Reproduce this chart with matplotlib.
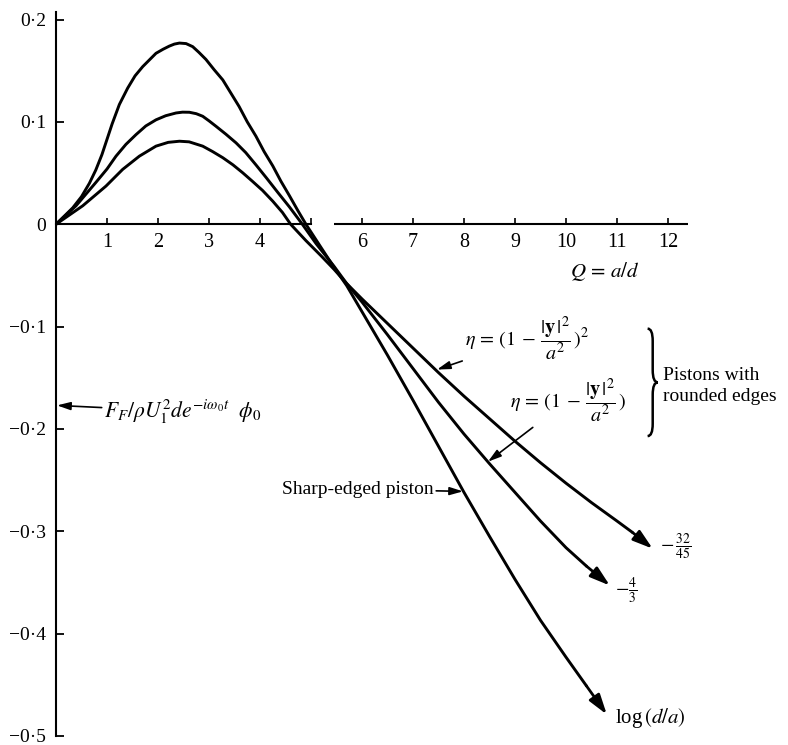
import matplotlib.pyplot as plt
from matplotlib.path import Path
from matplotlib.patches import PathPatch

plt.rcParams['font.family'] = ['Liberation Serif', 'DejaVu Serif']
plt.rcParams['mathtext.fontset'] = 'stix'

# sharp-edged piston (ends at log(d/a))
q_sharp = [0, 0.327, 0.5, 0.654, 0.78, 0.9, 0.98, 1.1, 1.242, 1.405, 1.55, 1.70, 1.84,
           1.96, 2.1, 2.22, 2.32, 2.42, 2.55, 2.68, 2.8, 2.94, 3.1, 3.27, 3.43, 3.59,
           3.75, 3.92, 4.08, 4.25, 4.41, 4.575, 4.74, 4.9, 5.2, 5.45, 5.7, 5.9, 6.5,
           7.0, 7.5, 8.0, 8.5, 9.0, 9.5, 10.0, 10.4, 10.8]
f_sharp = [0, 0.016, 0.027, 0.040, 0.053, 0.068, 0.080, 0.098, 0.117, 0.133, 0.145,
           0.154, 0.161, 0.167, 0.171, 0.174, 0.176, 0.177, 0.1765, 0.1735, 0.168,
           0.161, 0.151, 0.141, 0.128, 0.115, 0.100, 0.086, 0.071, 0.057, 0.042,
           0.028, 0.0135, 0.0, -0.023, -0.042, -0.060, -0.077, -0.128, -0.172,
           -0.217, -0.262, -0.305, -0.347, -0.387, -0.423, -0.451, -0.479]

# eta = (1 - |y|^2/a^2), ends at -4/3
q_lin = [0, 0.392, 0.784, 1.0, 1.176, 1.37, 1.569, 1.76, 1.96, 2.15, 2.353, 2.48,
         2.614, 2.75, 2.876, 3.0, 3.137, 3.33, 3.53, 3.72, 3.92, 4.13, 4.35, 4.575,
         4.83, 5.1, 5.45, 5.7, 6.0, 6.5, 7.0, 7.5, 8.0, 8.5, 9.0, 9.5, 10.0, 10.4,
         10.86]
f_lin = [0, 0.018, 0.041, 0.054, 0.0665, 0.078, 0.0876, 0.096, 0.102, 0.106, 0.1087,
         0.1095, 0.1094, 0.108, 0.1055, 0.101, 0.0957, 0.088, 0.0795, 0.070, 0.058,
         0.045, 0.031, 0.017, 0.0, -0.019, -0.041, -0.058, -0.076, -0.108, -0.141,
         -0.174, -0.205, -0.234, -0.262, -0.290, -0.316, -0.334, -0.353]

# eta = (1 - |y|^2/a^2)^2, ends at -32/45
q_sq = [0, 0.523, 0.98, 1.307, 1.634, 1.96, 2.2, 2.42, 2.61, 2.876, 3.07, 3.27, 3.47,
        3.66, 3.85, 4.05, 4.25, 4.44, 4.6, 4.9, 5.2, 5.45, 5.7, 6.0, 6.5, 7.0, 7.5,
        8.0, 8.5, 9.0, 9.5, 10.0, 10.5, 11.0, 11.3, 11.7]
f_sq = [0, 0.018, 0.0373, 0.0536, 0.0665, 0.0763, 0.080, 0.0811, 0.0805, 0.0763,
        0.071, 0.065, 0.058, 0.0503, 0.042, 0.033, 0.0225, 0.0115, 0.0, -0.016,
        -0.031, -0.044, -0.058, -0.073, -0.097, -0.121, -0.145, -0.168, -0.190,
        -0.212, -0.233, -0.253, -0.272, -0.290, -0.301, -0.317]

x_ticks = list(range(1, 13))
x_labels = ['' if t == 5 else str(t) for t in x_ticks]
y_ticks = [0.2, 0.1, 0, -0.1, -0.2, -0.3, -0.4, -0.5]
y_labels = ['0·2', '0·1', '0', '−0·1', '−0·2', '−0·3', '−0·4', '−0·5']

fig = plt.figure(figsize=(7.88, 7.45), dpi=100)
ax = fig.add_axes([0.0711, 0.0121, 0.8284, 0.9713])
ax.set_xlim(0, 12.8)
ax.set_ylim(-0.5, 0.207)

end_arrow = dict(arrowstyle='-|>,head_length=0.8,head_width=0.25', mutation_scale=15,
                 color='black', lw=2, shrinkA=0, shrinkB=0)
for q, f in [(q_sharp, f_sharp), (q_lin, f_lin), (q_sq, f_sq)]:
    ax.plot(q[:-1], f[:-1], color='black', lw=2.1, solid_joinstyle='round',
            solid_capstyle='round')
    ax.annotate('', xy=(q[-1], f[-1]), xytext=(q[-2], f[-2]), arrowprops=end_arrow)

# axes in the book style
for s in ['top', 'right']:
    ax.spines[s].set_visible(False)
ax.spines['left'].set_linewidth(1.5)
ax.spines['bottom'].set_position(('data', 0))
ax.spines['bottom'].set_bounds(0, 5.0)
ax.spines['bottom'].set_linewidth(1.5)
ax.hlines(0, 5.45, 12.4, color='black', lw=1.5)

ax.set_xticks(x_ticks)
ax.set_xticklabels(x_labels)
ax.set_yticks(y_ticks)
ax.set_yticklabels(y_labels)
ax.tick_params(axis='y', direction='in', length=6, width=1.3, pad=7, labelsize=14)
ax.tick_params(axis='x', direction='in', length=4, width=1.2, pad=6, labelsize=14.5)

ax.text(10.08, -0.046, r'$Q\,=\,a/d$', fontsize=15, va='center', ha='left')

small_arrow = dict(arrowstyle='-|>,head_length=1.0,head_width=0.3', mutation_scale=8,
                   color='black', lw=1.2, shrinkA=0, shrinkB=0)
ax.annotate(r'$F_F/\rho U_1^2 d e^{-i\omega_0 t}\ \ \phi_0$', xy=(0.02, -0.177),
            xytext=(0.95, -0.183), fontsize=15.5, va='center', ha='left',
            arrowprops=small_arrow)
ax.annotate('Sharp-edged piston', xy=(7.98, -0.261), xytext=(7.4, -0.259),
            fontsize=14, va='center', ha='right', arrowprops=small_arrow)
ax.annotate(r'$\eta\,=\,(1\,-\,\dfrac{|\mathbf{y}\,|^2}{a^2}\,)^2$', xy=(7.47, -0.142),
            xytext=(8.02, -0.112), fontsize=14.5, va='center', ha='left',
            arrowprops=small_arrow)
ax.annotate(r'$\eta\,=\,(1\,-\,\dfrac{|\mathbf{y}\,|^2}{a^2}\,)$', xy=(8.47, -0.232),
            xytext=(8.9, -0.172), fontsize=14.5, va='center', ha='left',
            arrowprops=small_arrow)

# curly brace grouping the rounded-edge pistons
bx, bw, btop, bbot = 11.6, 0.2, -0.102, -0.207
bmid, bd = (btop + bbot) / 2, 0.012
verts = [(bx, btop), (bx + bw / 2, btop), (bx + bw / 2, btop - bd),
         (bx + bw / 2, bmid + bd),
         (bx + bw / 2, bmid), (bx + bw, bmid),
         (bx + bw / 2, bmid), (bx + bw / 2, bmid - bd),
         (bx + bw / 2, bbot + bd),
         (bx + bw / 2, bbot), (bx, bbot)]
codes = [Path.MOVETO, Path.CURVE3, Path.CURVE3, Path.LINETO, Path.CURVE3, Path.CURVE3,
         Path.CURVE3, Path.CURVE3, Path.LINETO, Path.CURVE3, Path.CURVE3]
ax.add_patch(PathPatch(Path(verts, codes), fill=False, lw=1.8, color='black'))
ax.text(11.9, -0.148, 'Pistons with', fontsize=14, va='center', ha='left')
ax.text(11.9, -0.168, 'rounded edges', fontsize=14, va='center', ha='left')

ax.text(11.84, -0.315, r'$-\,\frac{32}{45}$', fontsize=14, va='center', ha='left')
ax.text(10.96, -0.358, r'$-\frac{4}{3}$', fontsize=14, va='center', ha='left')
ax.text(10.96, -0.482, r'log$\,(d/a)$', fontsize=15, va='center', ha='left')

fig.savefig('out.png', dpi=100)
